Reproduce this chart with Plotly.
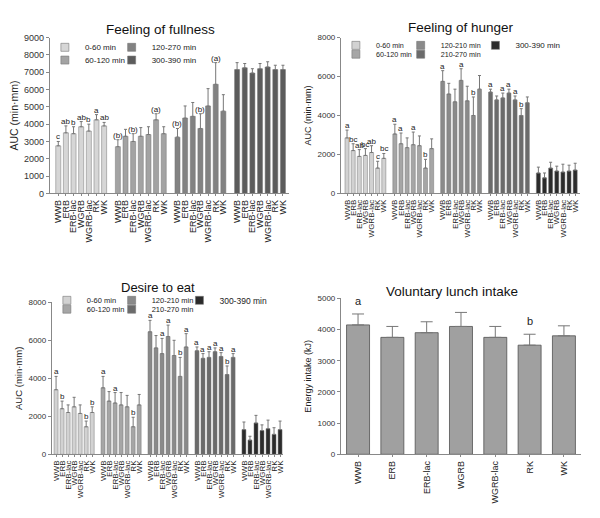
import plotly.graph_objects as go

FONT = "Liberation Sans, Arial, sans-serif"
products = ["WWB", "ERB", "ERB-lac", "WGRB", "WGRB-lac", "RK", "WK"]

# ---------------- Feeling of fullness ----------------
full_periods = ["0-60 min", "60-120 min", "120-270 min", "300-390 min"]
full_vals = [
    [2750, 3500, 3450, 3850, 3600, 4250, 3900],
    [2700, 3300, 3000, 3300, 3400, 4250, 3450],
    [3250, 4350, 4450, 3750, 5050, 6300, 4750],
    [7150, 7250, 6950, 7200, 7300, 7150, 7150],
]
full_err = [
    [250, 400, 400, 300, 400, 300, 200],
    [400, 400, 450, 500, 450, 350, 400],
    [500, 700, 800, 850, 1000, 1250, 950],
    [400, 250, 250, 300, 300, 250, 250],
]
full_letters = [
    ["c", "ab", "b", "ab", "b", "a", "ab"],
    ["(b)", "", "(b)", "", "", "(a)", ""],
    ["(b)", "", "", "(b)", "", "(a)", ""],
    ["", "", "", "", "", "", ""],
]
full_colors = ["#d6d6d6", "#a3a3a3", "#828282", "#5c5c5c"]

# ---------------- Feeling of hunger ----------------
hung_periods = ["0-60 min", "60-120 min", "120-210 min", "210-270 min", "300-390 min"]
hung_vals = [
    [2850, 2200, 1900, 1950, 2100, 1300, 1800],
    [3050, 2550, 2350, 2500, 2450, 1300, 2300],
    [5750, 5100, 4700, 5800, 4750, 4000, 5350],
    [5200, 4800, 4900, 5150, 4800, 4000, 4650],
    [1050, 800, 1300, 1150, 1100, 1150, 1200],
]
hung_err = [
    [400, 350, 350, 350, 350, 350, 250],
    [500, 550, 500, 650, 500, 450, 500],
    [550, 550, 650, 600, 750, 950, 700],
    [150, 200, 250, 200, 200, 350, 300],
    [300, 250, 300, 250, 400, 300, 350],
]
hung_letters = [
    ["a", "bc", "ab", "bc", "ab", "c", "bc"],
    ["a", "a", "", "a", "", "b", ""],
    ["a", "", "", "a", "", "b", ""],
    ["a", "", "a", "a", "a", "b", ""],
    ["", "", "", "", "", "", ""],
]
five_colors = ["#d2d2d2", "#a6a6a6", "#8a8a8a", "#6b6b6b", "#2b2b2b"]

# ---------------- Desire to eat ----------------
des_vals = [
    [3400, 2400, 2200, 2500, 2150, 1450, 2200],
    [3500, 2800, 2700, 2600, 2500, 1450, 2600],
    [6450, 5600, 5300, 6200, 5200, 4100, 5650],
    [5450, 5050, 5100, 5400, 5150, 4200, 5100],
    [1300, 750, 1650, 1250, 1350, 1050, 1300],
]
des_err = [
    [700, 400, 400, 500, 450, 300, 300],
    [600, 500, 550, 650, 600, 500, 550],
    [600, 650, 800, 600, 800, 1000, 700],
    [200, 250, 300, 200, 200, 450, 200],
    [400, 200, 400, 300, 450, 350, 450],
]
des_letters = [
    ["a", "b", "", "", "", "b", "b"],
    ["a", "", "a", "", "", "b", ""],
    ["a", "", "a", "a", "", "b", "a"],
    ["a", "a", "a", "a", "a", "b", "a"],
    ["", "", "", "", "", "", ""],
]

# ---------------- Voluntary lunch intake ----------------
lunch_vals = [4150, 3750, 3900, 4100, 3750, 3500, 3800]
lunch_err = [350, 350, 350, 450, 350, 350, 320]
lunch_letters = ["a", "", "", "", "", "b", ""]

W, H = 600, 518
OFF = 8  # page body margin


def px(X):
    return (X - OFF) / W


def py(Y):
    return 1 - (Y - OFF) / H


GAP = 0.8
fig = go.Figure()
annotations = []
legends = {}
leg_count = [0]


def new_legend(text_x, row_y, size):
    leg_count[0] += 1
    name = "legend" if leg_count[0] == 1 else f"legend{leg_count[0]}"
    legends[name] = dict(x=px(text_x - 40), y=py(row_y), xanchor="left", yanchor="middle",
                         orientation="v", font=dict(size=size, color="#222", family=FONT),
                         bgcolor="rgba(0,0,0,0)", itemwidth=30, tracegroupgap=0)
    return name


def add_panel(xa, ya, vals, errs, letters, periods, colors, legend_spots):
    for g, (v, e) in enumerate(zip(vals, errs)):
        xs = [g * (7 + GAP) + i for i in range(7)]
        fig.add_trace(go.Bar(
            x=xs, y=v, name=periods[g], width=0.66, showlegend=False,
            marker=dict(color=colors[g], line=dict(color="#777", width=0.5)),
            error_y=dict(type="data", symmetric=False, array=e, arrayminus=[0] * 7,
                         color="#777", thickness=1, width=1.5),
            xaxis=xa, yaxis=ya,
        ))
        tx, ty, fs = legend_spots[g]
        fig.add_trace(go.Scatter(
            x=[None], y=[None], mode="markers", name=periods[g], showlegend=True,
            marker=dict(symbol="square", size=8, color=colors[g], line=dict(color="#777", width=0.6)),
            xaxis=xa, yaxis=ya, legend=new_legend(tx, ty, fs),
        ))
        for xv, yv, ev, lt in zip(xs, v, e, letters[g]):
            if lt:
                annotations.append(dict(
                    x=xv, y=yv + ev, xref=xa, yref=ya, text=lt, showarrow=False,
                    yanchor="bottom", yshift=-2, font=dict(size=8, color="#222", family=FONT)))


add_panel("x", "y", full_vals, full_err, full_letters, full_periods, full_colors,
          [(85, 43, 8), (85, 56, 8), (152, 43, 8), (152, 56, 8)])
add_panel("x2", "y2", hung_vals, hung_err, hung_letters, hung_periods, five_colors,
          [(377, 41, 7.2), (377, 50, 7.2), (442, 41, 7.2), (442, 50, 7.2), (517, 41, 8)])
add_panel("x3", "y3", des_vals, des_err, des_letters, hung_periods, five_colors,
          [(87, 301, 7.5), (87, 310, 7.5), (152, 301, 7.5), (152, 310, 7.5), (220, 301, 8.5)])

fig.add_trace(go.Bar(
    x=products, y=lunch_vals, width=0.67, showlegend=False,
    marker=dict(color="#a0a0a0", line=dict(color="#505050", width=0.8)),
    error_y=dict(type="data", symmetric=False, array=lunch_err, arrayminus=[0] * 7,
                 color="#777", thickness=1, width=6),
    xaxis="x4", yaxis="y4",
))
for p, v, e, lt in zip(products, lunch_vals, lunch_err, lunch_letters):
    if lt:
        annotations.append(dict(x=p, y=v + e, xref="x4", yref="y4", text=lt, showarrow=False,
                                yanchor="bottom", yshift=5, font=dict(size=11, color="#222", family=FONT)))

titles = [("Feeling of fullness", 161, 25, 13.5), ("Feeling of hunger", 463, 23, 13.5),
          ("Desire to eat", 159, 288, 13), ("Voluntary lunch intake", 453, 292, 13.5)]
for t, tx, ty, fs in titles:
    annotations.append(dict(text=t, x=px(tx), y=py(ty), xref="paper", yref="paper",
                            showarrow=False, xanchor="center", yanchor="middle",
                            font=dict(size=fs, color="#111", family=FONT)))


def xaxis_grouped(dom, n_groups, start, end, fs):
    tv, tt = [], []
    for g in range(n_groups):
        for i in range(7):
            tv.append(g * (7 + GAP) + i)
            tt.append(products[i])
    return dict(domain=dom, range=[start, end], tickvals=tv, ticktext=tt, tickangle=-90,
                showline=True, linecolor="#888", linewidth=1, ticks="outside", ticklen=2,
                tickcolor="#888", tickfont=dict(size=fs, color="#222", family=FONT),
                showgrid=False, zeroline=False)


def yaxis(dom, rng, dtick, title, anchor, fs, tfs):
    return dict(domain=dom, range=rng, dtick=dtick, showline=True, linecolor="#888", linewidth=1,
                ticks="outside", ticklen=3, tickcolor="#888", showgrid=False, zeroline=False,
                tickfont=dict(size=fs, color="#333", family=FONT), anchor=anchor,
                title=dict(text=title, font=dict(size=tfs, color="#222", family=FONT), standoff=4))


fig.update_layout(
    width=W, height=H, margin=dict(l=0, r=0, t=0, b=0),
    paper_bgcolor="white", plot_bgcolor="white", showlegend=True,
    barmode="overlay",
    xaxis=xaxis_grouped([px(50), px(290)], 4, -1.1, 30.2, 9) | dict(anchor="y"),
    yaxis=yaxis([py(192), py(33)], [0, 9000], 1000, "AUC (min·mm)", "x", 9, 10.5),
    xaxis2=xaxis_grouped([px(342), px(582)], 5, -1.0, 38.0, 8) | dict(anchor="y2"),
    yaxis2=yaxis([py(192), py(33)], [0, 8000], 2000, "AUC (min·mm)", "x2", 8, 9),
    xaxis3=xaxis_grouped([px(52), px(284)], 5, -0.7, 37.7, 8) | dict(anchor="y3"),
    yaxis3=yaxis([py(458), py(303)], [0, 8000], 2000, "AUC (min·mm)", "x3", 8, 9.5),
    xaxis4=dict(domain=[px(342), px(583)], anchor="y4", tickangle=-90, showline=True,
                linecolor="#888", linewidth=1, ticks="outside", ticklen=2, tickcolor="#888",
                tickfont=dict(size=9, color="#222", family=FONT), showgrid=False),
    yaxis4=yaxis([py(458), py(299)], [0, 5000], 1000, "Energy intake (kJ)", "x4", 8, 9),
    annotations=annotations,
    **legends,
)

fig.write_html("out.html")
